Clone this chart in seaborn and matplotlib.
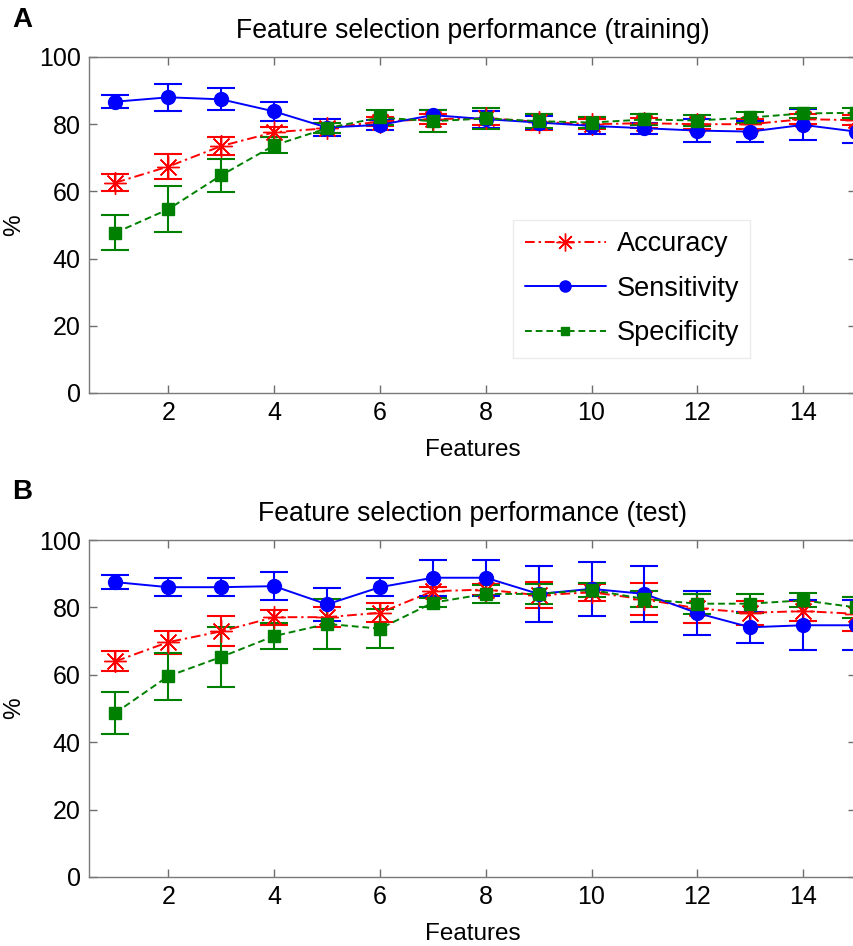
import numpy as np
import pandas as pd
import matplotlib
matplotlib.use("Agg")
import matplotlib.pyplot as plt
import seaborn as sns
from matplotlib.lines import Line2D

features = list(range(1, 16))

acc_tr = [62.6, 67.4, 73.5, 77.6, 78.8, 80.8, 81.5, 81.8, 80.7, 80.0, 80.3, 80.0, 80.0, 81.5, 81.2]
acc_tr_err = [2.6, 3.8, 2.6, 1.5, 1.5, 1.2, 1.5, 2.0, 2.3, 1.5, 1.5, 1.5, 1.5, 1.5, 1.5]
sens_tr = [86.7, 88.0, 87.4, 83.8, 79.0, 79.8, 82.7, 81.5, 80.5, 79.5, 78.8, 78.1, 77.8, 79.8, 77.8]
sens_tr_err = [1.9, 4.0, 3.3, 2.9, 2.5, 1.5, 1.5, 2.5, 2.0, 2.5, 1.7, 3.4, 3.2, 4.6, 3.5]
spec_tr = [47.7, 54.7, 64.8, 73.7, 78.8, 82.0, 80.9, 81.7, 80.9, 80.5, 81.4, 81.1, 82.0, 83.2, 83.4]
spec_tr_err = [5.2, 6.8, 4.9, 2.4, 1.5, 2.2, 3.2, 3.0, 2.1, 1.5, 1.6, 1.5, 1.5, 1.5, 1.5]

acc_te = [64.0, 69.7, 72.9, 77.1, 77.1, 78.4, 84.8, 85.3, 83.6, 84.5, 82.4, 79.7, 78.4, 78.9, 78.1]
acc_te_err = [3.0, 3.4, 4.5, 2.2, 3.0, 2.8, 1.4, 1.5, 3.8, 2.5, 4.8, 4.3, 3.5, 3.0, 5.0]
sens_te = [87.5, 86.0, 86.0, 86.3, 80.9, 86.0, 88.8, 88.8, 84.0, 85.5, 84.0, 78.3, 74.1, 74.7, 74.7]
sens_te_err = [2.0, 2.6, 2.6, 4.2, 4.9, 2.6, 5.4, 5.4, 8.3, 8.0, 8.3, 6.6, 4.6, 7.4, 7.4]
spec_te = [48.7, 59.6, 65.3, 71.5, 75.1, 73.7, 81.4, 84.0, 84.0, 85.2, 82.5, 81.1, 81.1, 82.1, 80.0]
spec_te_err = [6.3, 7.0, 8.9, 3.9, 7.5, 5.7, 1.4, 2.6, 3.0, 2.0, 2.4, 3.0, 2.8, 2.1, 3.2]

series_names = ["Accuracy", "Sensitivity", "Specificity"]
titles = ["Feature selection performance (training)", "Feature selection performance (test)"]
panel_labels = ["A", "B"]
xticks = [2, 4, 6, 8, 10, 12, 14]
yticks = [0, 20, 40, 60, 80, 100]

sns.set_style("white")
plt.rcParams['font.family'] = ['Liberation Sans', 'DejaVu Sans']
plt.rcParams['text.color'] = 'black'
plt.rcParams['axes.labelcolor'] = 'black'
plt.rcParams['xtick.color'] = 'black'
plt.rcParams['ytick.color'] = 'black'

TICK_FS = 18
LABEL_FS = 17.5
TITLE_FS = 19.2
LEG_FS = 19.5

styles = {
    "Accuracy": dict(color="#ff0000", ls=(0, (5, 2, 1.2, 2)), marker=(8, 2, 0), ms=16, mew=1.0),
    "Sensitivity": dict(color="#0000ff", ls="-", marker="o", ms=10, mew=1.0),
    "Specificity": dict(color="#008000", ls=(0, (3.5, 2)), marker="s", ms=8, mew=1.0),
}

fig = plt.figure(figsize=(8.54, 9.46), dpi=100)
axes_pos = [[89/854, 1-393/946, 767/854, 336/946],
            [89/854, 1-877/946, 767/854, 337/946]]

data_sets = [
    [(acc_tr, acc_tr_err), (sens_tr, sens_tr_err), (spec_tr, spec_tr_err)],
    [(acc_te, acc_te_err), (sens_te, sens_te_err), (spec_te, spec_te_err)],
]

for i, pos in enumerate(axes_pos):
    ax = fig.add_axes(pos)
    for name, (vals, errs) in zip(series_names, data_sets[i]):
        st = styles[name]
        df = pd.DataFrame({"Features": features, "val": vals})
        ax.errorbar(features, vals, yerr=errs, fmt="none", ecolor=st["color"],
                    elinewidth=1.5, capsize=10, capthick=1.5, zorder=2)
        sns.lineplot(data=df, x="Features", y="val", ax=ax, color=st["color"],
                     linestyle=st["ls"], linewidth=1.4, marker=st["marker"],
                     markersize=st["ms"], markeredgewidth=st["mew"],
                     markeredgecolor=st["color"], markerfacecolor=st["color"],
                     zorder=3, legend=False)
    ax.set_xlim(0.5, 15)
    ax.set_ylim(0, 100)
    ax.set_xticks(xticks)
    ax.set_yticks(yticks)
    ax.tick_params(direction="in", length=6, width=1, color="#6e6e6e",
                   labelsize=TICK_FS, labelcolor="black",
                   top=True, right=True, bottom=True, left=True, pad=6)
    for sp in ax.spines.values():
        sp.set_visible(True)
        sp.set_color("#7a7a7a")
        sp.set_linewidth(1.0)
    ax.set_xlabel("Features", fontsize=LABEL_FS, labelpad=10, color="black")
    ax.set_ylabel("%", fontsize=LABEL_FS, labelpad=10, color="black")
    ax.set_title(titles[i], fontsize=TITLE_FS, pad=14, color="black")
    fig.text(12/854, 1 - (20 if i == 0 else 492)/946, panel_labels[i],
             fontsize=20, fontweight="bold", va="center", ha="left", color="black")
    if i == 0:
        handles = []
        for name in series_names:
            st = styles[name]
            handles.append(Line2D([0], [0], color=st["color"], linestyle=st["ls"],
                                  linewidth=1.4, marker=st["marker"],
                                  markersize=st["ms"] * 0.8, markeredgewidth=st["mew"],
                                  markerfacecolor=st["color"], markeredgecolor=st["color"]))
        leg = ax.legend(handles, series_names, loc="upper left",
                        bbox_to_anchor=(0.553, 0.515), fontsize=LEG_FS,
                        handlelength=3.0, handletextpad=0.4, labelspacing=0.68,
                        borderpad=0.42, borderaxespad=0, frameon=True, fancybox=False)
        leg.get_frame().set_edgecolor("#e6e6e6")
        leg.get_frame().set_linewidth(1.0)

fig.savefig("out.png", dpi=100)
